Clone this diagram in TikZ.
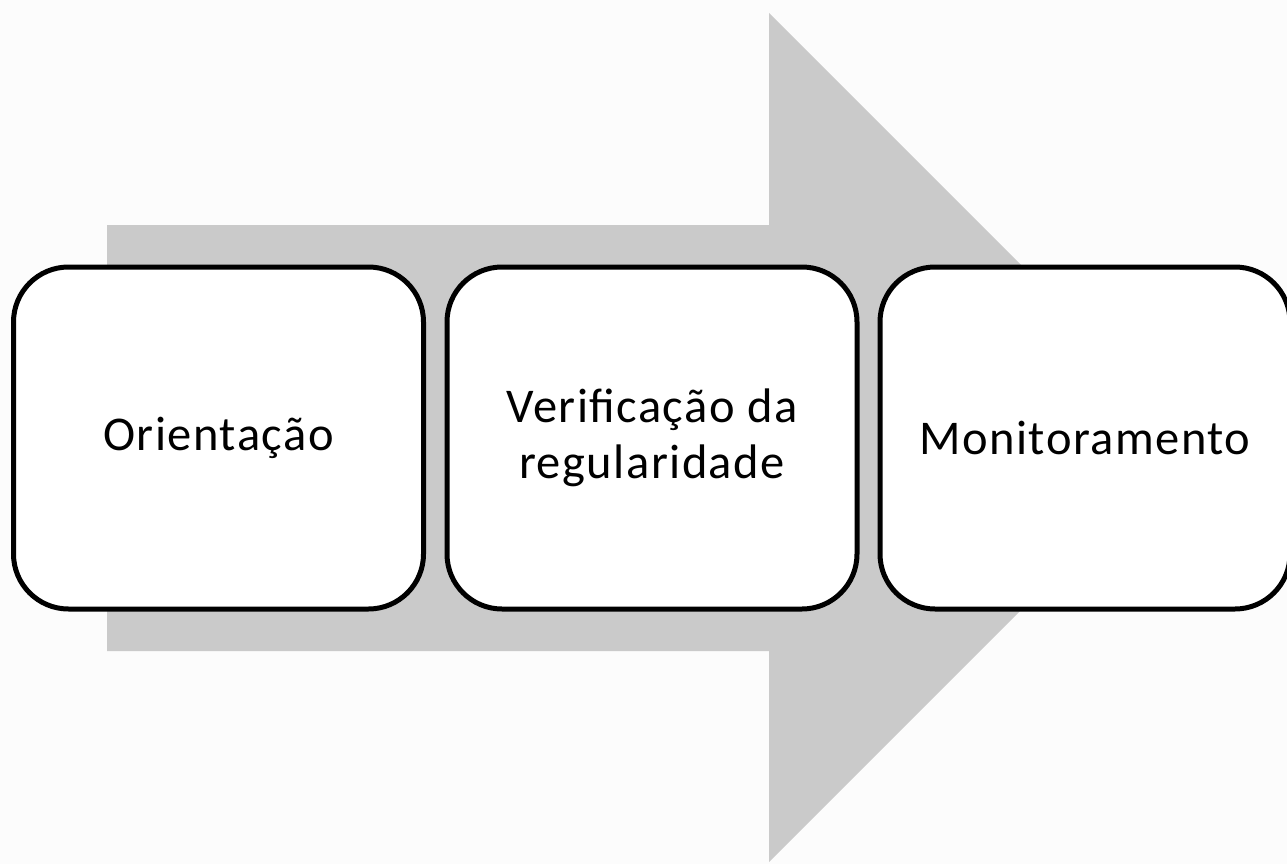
\documentclass[tikz,border=0pt]{standalone}
\usepackage{fontspec}
\setmainfont{Carlito}[LetterSpace=3]
\definecolor{bgc}{RGB}{252,252,252}
\definecolor{arrowgrey}{RGB}{202,202,202}
\begin{document}
\begin{tikzpicture}[x=1pt,y=-1pt,
  stepbox/.style={draw=black,line width=5pt,fill=white,rounded corners=55pt,
    minimum width=410pt,minimum height=342pt,inner sep=0pt,align=center,
    font=\fontsize{48.5}{56}\selectfont}]
\useasboundingbox (0,0) rectangle (1287,864);
\clip (0,0) rectangle (1287,864);
\fill[bgc] (0,0) rectangle (1287,864);
\fill[arrowgrey] (107,225) -- (769,225) -- (769,13) -- (1193.5,437.5) -- (769,862) -- (769,651) -- (107,651) -- cycle;
\node[stepbox] (b1) at (218.5,438) {Orientação};
\node[stepbox] (b2) at (652,438) {Verificação da\\regularidade};
\node[stepbox] (b3) at (1085,438) {Monitoramento};
\end{tikzpicture}
\end{document}
